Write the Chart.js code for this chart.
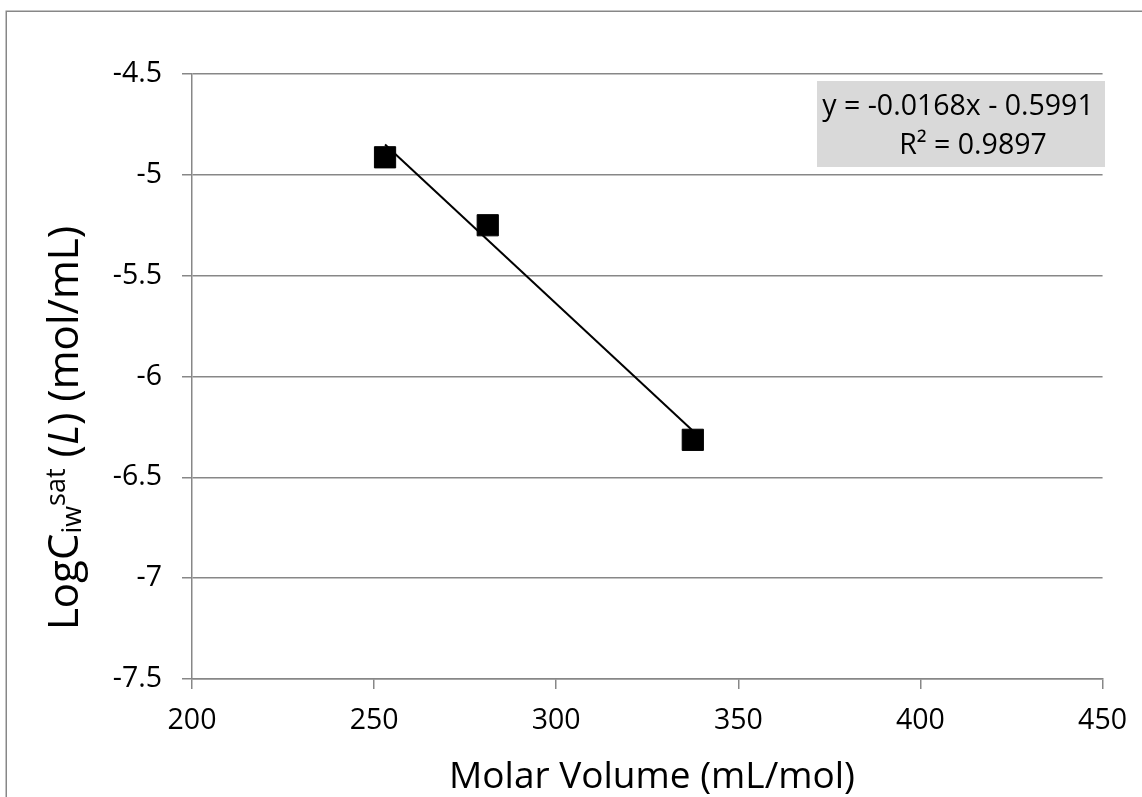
<!DOCTYPE html>
<html><head><meta charset="utf-8">
<script src="https://cdn.jsdelivr.net/npm/chart.js@4.4.1/dist/chart.umd.min.js"></script>
<style>html,body{margin:0;padding:0;background:#fff;} canvas{display:block;}</style>
</head><body>
<canvas id="c" width="1142" height="797"></canvas>
<script>
// ---- data ----
const molarVolume = [253.0, 281.2, 337.5];
const logCsat = [-4.913, -5.250, -6.314];
const trendSlope = -0.0168;
const trendIntercept = -0.5991;
const rSquared = 0.9897;
const xTickValues = [200, 250, 300, 350, 400, 450];
const yTickValues = [-4.5, -5, -5.5, -6, -6.5, -7, -7.5];
const xAxisTitle = 'Molar Volume (mL/mol)';
const equationLabel = 'y = ' + trendSlope + 'x - ' + Math.abs(trendIntercept);
const r2Label = 'R\u00b2 = ' + rSquared;

const FONT = '"Open Sans", "Noto Sans", sans-serif';
const GRAY = '#878787';

const trendX = [Math.min(...molarVolume), Math.max(...molarVolume)];
const trendPoints = trendX.map(x => ({x: x, y: trendSlope * x + trendIntercept}));
const points = molarVolume.map((x, i) => ({x: x, y: logCsat[i]}));

const decor = {
  id: 'decor',
  beforeDraw(chart) {
    const ctx = chart.ctx;
    ctx.save();
    ctx.fillStyle = '#fff';
    ctx.fillRect(0, 0, chart.width, chart.height);
    ctx.strokeStyle = GRAY;
    ctx.lineWidth = 1.5;
    ctx.strokeRect(6.25, 11.25, chart.width + 40, chart.height + 40);
    ctx.restore();
  },
  afterDraw(chart) {
    const ctx = chart.ctx;
    ctx.save();
    // equation box
    ctx.fillStyle = '#d9d9d9';
    ctx.fillRect(817, 81, 288, 86);
    ctx.fillStyle = '#000';
    ctx.font = '28.5px ' + FONT;
    ctx.textAlign = 'center';
    ctx.textBaseline = 'alphabetic';
    ctx.fillText(equationLabel, 958, 115);
    ctx.fillText(r2Label, 973, 154);
    // x title
    ctx.font = '37px ' + FONT;
    ctx.fillText(xAxisTitle, 652, 788);
    // y title (rich text)
    const segs = [
      {t: 'LogC', f: '42px ' + FONT, dy: 0},
      {t: 'iw', f: '27px ' + FONT, dy: 3},
      {t: 'sat', f: '27px ' + FONT, dy: -13},
      {t: ' (', f: '42px ' + FONT, dy: 0},
      {t: 'L', f: 'italic 42px ' + FONT, dy: 0},
      {t: ') (mol/mL)', f: '42px ' + FONT, dy: 0}
    ];
    let total = 0;
    segs.forEach(s => { ctx.font = s.f; s.w = ctx.measureText(s.t).width; total += s.w; });
    ctx.translate(78, 428);
    ctx.rotate(-Math.PI / 2);
    ctx.textAlign = 'left';
    let x = -total / 2;
    segs.forEach(s => { ctx.font = s.f; ctx.fillText(s.t, x, s.dy); x += s.w; });
    ctx.restore();
  }
};

new Chart(document.getElementById('c'), {
  type: 'scatter',
  data: {
    datasets: [
      {
        label: 'Data',
        data: points,
        pointStyle: 'rect',
        pointRadius: 15,
        pointHoverRadius: 15,
        backgroundColor: '#000',
        borderColor: '#000',
        borderWidth: 1,
        showLine: false,
        order: 2
      },
      {
        label: 'Trend',
        data: trendPoints,
        showLine: true,
        borderColor: '#000',
        borderWidth: 2,
        pointRadius: 0,
        pointHoverRadius: 0,
        fill: false,
        order: 1
      }
    ]
  },
  options: {
    responsive: false,
    animation: false,
    events: [],
    layout: {padding: {left: 0, top: 74, right: 38, bottom: 0}},
    plugins: {legend: {display: false}, tooltip: {enabled: false}},
    scales: {
      x: {
        type: 'linear',
        min: 200, max: 450,
        afterBuildTicks(scale) { scale.ticks = xTickValues.map(v => ({value: v})); },
        afterFit(scale) { scale.height = 118; },
        grid: {drawOnChartArea: false, drawTicks: true, tickLength: 10, color: GRAY, lineWidth: 1.5},
        border: {display: true, color: GRAY, width: 1.5},
        ticks: {color: '#000', font: {family: FONT, size: 28.5}, padding: 15, maxRotation: 0, autoSkip: false}
      },
      y: {
        type: 'linear',
        min: -7.5, max: -4.5,
        afterBuildTicks(scale) { scale.ticks = yTickValues.map(v => ({value: v})); },
        afterFit(scale) { scale.width = 192; },
        grid: {drawOnChartArea: true, drawTicks: true, tickLength: 10, color: GRAY, lineWidth: 1.5},
        border: {display: true, color: GRAY, width: 1.5},
        ticks: {color: '#000', font: {family: FONT, size: 28.5}, padding: 20, autoSkip: false,
                callback: v => String(v)}
      }
    }
  },
  plugins: [decor]
});
</script>
</body></html>
